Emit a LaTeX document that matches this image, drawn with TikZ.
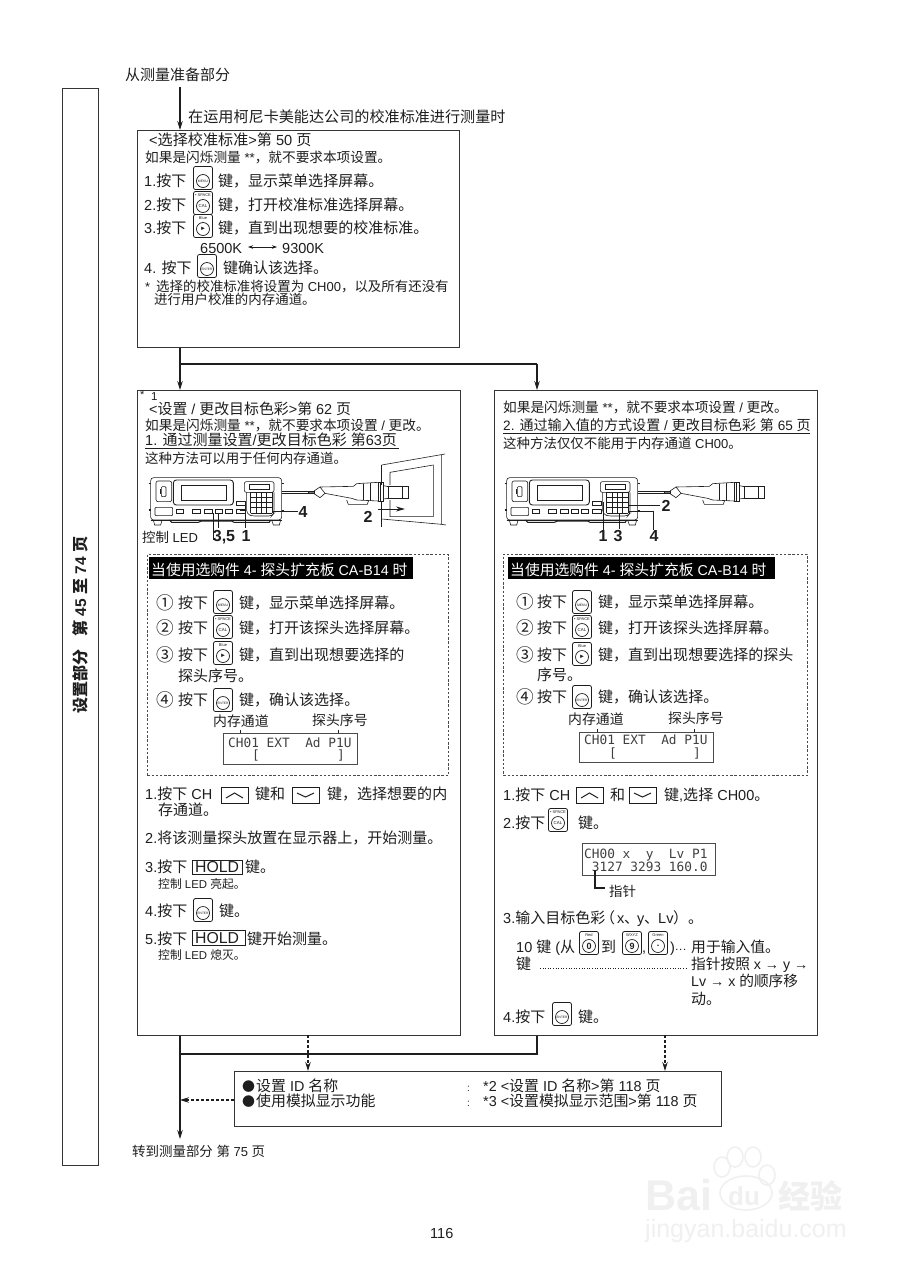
\documentclass[tikz,border=0pt]{standalone}
\usepackage{fontspec}
\usetikzlibrary{arrows.meta}
\setmainfont{Liberation Sans}
\newfontfamily\lat{Liberation Sans}
\newfontfamily\cjk[Scale=1.035]{Noto Sans CJK SC}
\newfontfamily\lcd{DejaVu Sans Mono}
\XeTeXinterchartokenstate=1
\chardef\cjkcl=5
\newcount\cc
\newcommand\setrange[2]{\cc=#1 \loop\ifnum\cc<#2 \XeTeXcharclass\cc=\cjkcl \advance\cc 1 \repeat}
\setrange{"4E00}{"A000}\setrange{"3000}{"3040}\setrange{"FF00}{"FFF0}\setrange{"2460}{"2474}
\XeTeXcharclass"25CF=\cjkcl \XeTeXcharclass"22EF=\cjkcl
\XeTeXinterchartoks 0 \cjkcl={\cjk}
\XeTeXinterchartoks 4095 \cjkcl={\cjk}
\XeTeXinterchartoks \cjkcl 0={\lat}
\XeTeXinterchartoks \cjkcl 4095={\lat}
\definecolor{ink}{HTML}{1E1E1E}
\definecolor{wm}{HTML}{F0F0F0}
\newcount\tn
% text at x, baseline y, size
\newcommand\tx[4]{\global\advance\tn 1
  \node[anchor=base west,inner sep=0pt,text=ink] (t\the\tn) at (#1,#2) {\fontsize{#3}{#3}\selectfont #4};}
% circled step number, larger than the text beside it
\newcommand\num[3]{\tx{#1-1}{#2+1}{17}{#3}}
% tool keys
\newcommand\keyic[4]{\global\advance\tn 1
  \node[draw=ink,line width=.8pt,rounded corners=2pt,minimum width=19pt,minimum height=23pt,inner sep=0pt] (t\the\tn) at (#1,#2) {};
  \draw[ink,line width=.7pt] (#1,#2+3) circle[radius=6.5];
  \global\advance\tn 1
  \node[inner sep=0pt,text=ink] (t\the\tn) at (#1,#2+3) {\fontsize{#4}{#4}\selectfont #3};}
\newcommand\keytop[4]{\keyic{#1}{#2}{#4}{4.4}
  \global\advance\tn 1
  \node[inner sep=0pt,text=ink] (t\the\tn) at (#1,#2-8) {\fontsize{4}{4}\selectfont #3};}
\newcommand\kmenu[2]{\keyic{#1}{#2}{MENU}{3.4}}
\newcommand\kenter[2]{\keyic{#1}{#2}{ENTER}{3.2}}
\newcommand\kcal[2]{\keytop{#1}{#2}{• SPACE}{CAL}}
\newcommand\kblue[2]{\keytop{#1}{#2}{Blue}{\fontsize{6}{6}\selectfont ►}}
% arrow keys
\newcommand\kup[2]{\global\advance\tn 1
  \node[draw=ink,line width=.7pt,minimum width=27pt,minimum height=16pt,inner sep=0pt,anchor=north west] (t\the\tn) at (#1,#2) {};
  \draw[ink,line width=1pt] (#1+5,#2+11) -- (#1+13.5,#2+6) -- (#1+22,#2+11);}
\newcommand\kdown[2]{\global\advance\tn 1
  \node[draw=ink,line width=.7pt,minimum width=27pt,minimum height=16pt,inner sep=0pt,anchor=north west] (t\the\tn) at (#1,#2) {};
  \draw[ink,line width=1pt] (#1+5,#2+6) -- (#1+13.5,#2+10) -- (#1+22,#2+6);}
\newcommand\hold[4]{\global\advance\tn 1
  \node[draw=ink,line width=.8pt,minimum width=#3pt,minimum height=#4pt,inner sep=0pt,anchor=north west] (t\the\tn) at (#1,#2) {};}
\newcommand\lcdbox[4]{\global\advance\tn 1
  \node[draw=ink!80,line width=.8pt,minimum width=#3pt,minimum height=#4pt,inner sep=0pt,anchor=north west] (t\the\tn) at (#1,#2) {};}
\newcommand\lcdtx[3]{\global\advance\tn 1
  \node[anchor=base west,inner sep=0pt,text=ink!85] (t\the\tn) at (#1,#2) {\fontsize{12.8}{12.8}\selectfont\lcd #3};}
\newcommand\bignum[3]{\global\advance\tn 1
  \node[anchor=base,inner sep=0pt,text=ink] (t\the\tn) at (#1,#2) {\fontsize{16}{16}\selectfont\bfseries #3};}
% instrument in crop coordinates (1 unit = 1/3 px)
\newcommand\device[1]{\begin{scope}[shift={(#1,385)},x=.33333pt,y=-.33333pt,draw=ink,line width=.6pt]
  \draw[rounded corners=3pt] (62,278) rectangle (455,405);
  \draw (62,405) -- (455,405);
  \draw[line width=1.2pt] (56,295) -- (62,295) (56,375) -- (62,375) (455,295) -- (461,295) (455,378) -- (461,378);
  \draw (70,405) -- (74,420) -- (92,420) -- (96,405) (425,405) -- (430,420) -- (448,420) -- (452,405);
  \draw[line width=1pt] (118,405) -- (125,412) -- (205,412) -- (215,408) -- (305,408) -- (312,412) -- (418,412) -- (422,405);
  \draw[rounded corners=2pt] (78,288) rectangle (125,350);
  \draw[rounded corners=1pt] (94,305) rectangle (108,335);
  \draw[line width=1pt] (90,312) -- (90,328);
  \draw[rounded corners=3pt,line width=.9pt] (130,285) rectangle (310,360);
  \draw[line width=.9pt] (155,300) rectangle (290,346);
  \draw[rounded corners=1pt] (75,367) rectangle (128,392);
  \draw[line width=.8pt] (140,372) rectangle (160,384) (188,372) rectangle (212,384) (222,372) rectangle (246,384) (255,372) rectangle (277,384) (287,372) rectangle (307,384);
  \draw[line width=.8pt] (320,350) rectangle (345,362) (320,372) rectangle (345,384);
  \draw[rounded corners=2pt] (343,290) rectangle (432,322);
  \draw (358,297) rectangle (418,314);
  \draw[rounded corners=3pt] (350,322) -- (350,385) -- (365,393) -- (425,393) -- (432,385) -- (432,322);
  \foreach \i in {0,1,2,3,4} {\draw[line width=.8pt] (362+\i*16,322) -- (362+\i*16,384);}
  \foreach \i in {0,1,2,3,4} {\draw[line width=.8pt] (362,322+\i*15.5) -- (426,322+\i*15.5);}
  \draw[line width=.7pt] (455,318) -- (545,318) (455,324) -- (545,324);
  \draw[line width=1pt,fill=ink!60] (535,318) rectangle (552,326);
  \draw (552,318) -- (570,306) -- (585,325) -- (570,338) -- (552,326);
  \draw (570,306) -- (670,304) -- (680,296) -- (745,292) -- (745,348) -- (680,345) -- (665,340) -- (585,325);
  \draw (650,345) -- (655,358) -- (712,358) -- (716,346);
  \draw (700,296) -- (700,345) (722,294) -- (722,347);
  \draw (745,292) rectangle (752,350);
  \draw (752,292) rectangle (760,350);
  \draw (760,302) -- (775,305) -- (775,340) -- (760,342);
  \draw (775,305) rectangle (835,340);
  \draw (818,305) -- (818,340);
\end{scope}}
\tikzset{
  boxst/.style={draw=ink!90,line width=1.1pt,inner sep=0pt,anchor=north west},
  dashbox/.style={draw=ink!80,line width=.7pt,dash pattern=on 2.4pt off 1.8pt,inner sep=0pt,anchor=north west},
  blackbar/.style={fill=black,inner sep=0pt,anchor=north west},
  conn/.style={draw=ink,line width=1.1pt},
  arr/.style={conn,-{Stealth[length=9pt,width=5.5pt]}},
  darr/.style={conn,dash pattern=on 3pt off 2pt,-{Stealth[length=9pt,width=5.5pt,sep=0pt]}},
  lead/.style={draw=ink,line width=.9pt}
}
\begin{document}
\begin{tikzpicture}[x=1pt,y=-1pt]
\useasboundingbox (0,0) rectangle (905,1280);
\fill[white] (0,0) rectangle (905,1280);
% watermark
\node[anchor=base west,inner sep=0pt,text=wm] (wm1) at (645,1210) {\fontsize{43}{43}\selectfont\bfseries Bai};
\draw[wm,line width=1.6pt] (746,1193) ellipse[x radius=26,y radius=17];
\foreach \a/\b in {722/1167,735/1157,753/1157,767/1175}{\draw[wm,line width=1.6pt] (\a,\b) ellipse[x radius=8,y radius=10];}
\node[anchor=base west,inner sep=0pt,text=wm] (wm2) at (728,1205) {\fontsize{26}{26}\selectfont\bfseries du};
\node[anchor=base west,inner sep=0pt,text=wm] (wm3) at (778,1208) {\fontsize{31}{31}\selectfont\bfseries 经验};
\node[anchor=base west,inner sep=0pt,text=wm] (wm4) at (645,1237) {\fontsize{25}{25}\selectfont jingyan.baidu.com};
% boxes
\node[boxst,minimum width=36pt,minimum height=1077pt] (side) at (62,88) {};
\node[boxst,minimum width=322pt,minimum height=217pt] (top) at (137,130) {};
\node[boxst,minimum width=323pt,minimum height=645pt] (lft) at (137,390) {};
\node[boxst,minimum width=323pt,minimum height=645pt] (rgt) at (494,390) {};
\node[boxst,minimum width=487pt,minimum height=55pt] (opt) at (234,1071) {};
\node[dashbox,minimum width=301pt,minimum height=221pt] (dl) at (147,554) {};
\node[dashbox,minimum width=304pt,minimum height=221pt] (dr) at (503,554) {};
% connectors
\coordinate (start) at (180,87);
\coordinate (j1) at (180,364);
\coordinate (j2) at (537,364);
\coordinate (j3) at (180,1054);
\coordinate (j4) at (537,1054);
\coordinate (finish) at (180,1139);
\coordinate (d1) at (308,1035);
\coordinate (d2) at (665,1035);
\coordinate (d3) at (234,1100);
\coordinate (d4) at (180,1100);
\draw[arr] (start) -- (top.north -| start);
\draw[arr] (top.south -| j1) -- (lft.north -| j1);
\draw[conn] (j1) -- (j2);
\draw[arr] (j2) -- (rgt.north -| j2);
\draw[arr] (lft.south -| j1) -- (finish);
\draw[conn] (j3) -- (j4) -- (rgt.south -| j4);
\draw[darr] (d1) -- (opt.north -| d1);
\draw[darr] (d2) -- (opt.north -| d2);
\draw[darr] (d3) -- (d4);
% side label
\node[rotate=90,inner sep=0pt,text=ink] (sidelabel) at (80,625) {\fontsize{15.5}{15.5}\selectfont\bfseries 设置部分 \ \ 第 45 至 74 页};
% header
\tx{125}{80}{14.5}{从测量准备部分}
\tx{188}{122}{14.6}{在运用柯尼卡美能达公司的校准标准进行测量时}
% top box
\tx{149}{145}{14.6}{<选择校准标准>第 50 页}
\tx{145}{162}{13.2}{如果是闪烁测量 **，就不要求本项设置。}
\tx{144}{186}{14.5}{1.按下}\kmenu{203}{178}\tx{218}{186}{14.5}{键，显示菜单选择屏幕。}
\tx{144}{210}{14.5}{2.按下}\kcal{203}{203}\tx{218}{210}{14.5}{键，打开校准标准选择屏幕。}
\tx{144}{233}{14.5}{3.按下}\kblue{203}{226}\tx{218}{233}{14.5}{键，直到出现想要的校准标准。}
\tx{200}{253}{14.5}{6500K}
\coordinate (a1) at (248,247);\coordinate (a2) at (277,247);
\draw[draw=ink,line width=.7pt,{Stealth[length=5pt,width=3.5pt]}-{Stealth[length=5pt,width=3.5pt]}] (a1) -- (a2);
\tx{282}{253}{14.5}{9300K}
\tx{144}{273}{14.5}{4. 按下}\kenter{207}{266}\tx{223}{273}{14.5}{键确认该选择。}
\tx{145}{291}{12.8}{*}
\tx{156}{291}{13}{选择的校准标准将设置为 CH00，以及所有还没有}
\tx{154}{304}{13}{进行用户校准的内存通道。}
% left box
\tx{140}{398}{11}{*}\tx{151}{400}{11.5}{1}
\tx{149}{414}{14.4}{<设置 / 更改目标色彩>第 62 页}
\tx{145}{430}{13.2}{如果是闪烁测量 **，就不要求本项设置 / 更改。}
\tx{145}{445}{14.5}{1. 通过测量设置/更改目标色彩 第63页}
\coordinate (u1) at (145,448);\coordinate (u2) at (399,448);\draw[lead] (u1) -- (u2);
\tx{145}{463}{13}{这种方法可以用于任何内存通道。}
\device{130}
\begin{scope}[shift={(130,385)},x=.33333pt,y=-.33333pt,draw=ink,line width=.6pt]
  \draw (755,240) -- (945,207) (935,209) -- (935,418);
  \draw (755,240) -- (755,300) (755,350) -- (755,425);
  \draw (780,262) -- (910,240) -- (910,395) -- (780,395) -- (780,345) (780,262) -- (780,300);
  \draw (755,402) -- (935,418) -- (948,420);
  \draw[lead,-{Stealth[length=9pt,width=5pt]}] (745,372) -- (825,372);
  \draw[lead] (430,380) -- (505,380);
  \draw[lead] (250,385) -- (250,465) (265,385) -- (265,428);
  \draw[lead] (330,350) -- (345,350) -- (345,430) (345,376) -- (330,376);
\end{scope}
\bignum{368}{522}{2}\bignum{303}{517}{4}\bignum{224}{541}{3,5}\bignum{246}{541}{1}
\tx{142}{542}{13}{控制 LED}
% right box text
\tx{503}{412}{13.2}{如果是闪烁测量 **，就不要求本项设置 / 更改。}
\tx{503}{430}{13.6}{2. 通过输入值的方式设置 / 更改目标色彩 第 65 页}
\coordinate (u3) at (503,433);\coordinate (u4) at (810,433);\draw[lead] (u3) -- (u4);
\tx{503}{448}{13}{这种方法仅仅不能用于内存通道 CH00。}
\device{486}
\begin{scope}[shift={(490,385)},x=.33333pt,y=-.33333pt]
  \draw[lead] (415,360) -- (510,360);
  \draw[lead] (340,352) -- (340,435);
  \draw[lead] (387,385) -- (387,432);
  \draw[lead] (415,378) -- (490,378) -- (490,435);
\end{scope}
\bignum{666}{511}{2}\bignum{603}{541}{1}\bignum{618}{541}{3}\bignum{654}{541}{4}
% left dashed
\node[blackbar,minimum width=264pt,minimum height=22pt] (barl) at (149,557) {};
\global\advance\tn 1
\node[anchor=base west,inner sep=0pt,text=white] (t\the\tn) at (151,575) {\fontsize{14.3}{14.3}\selectfont 当使用选购件 4- 探头扩充板 CA-B14 时};
\num{157}{608}{①}\tx{178}{608}{14.5}{按下}\kmenu{223}{602}\tx{239}{608}{14.5}{键，显示菜单选择屏幕。}
\num{157}{633}{②}\tx{178}{633}{14.5}{按下}\kcal{223}{627}\tx{239}{633}{14.5}{键，打开该探头选择屏幕。}
\num{157}{660}{③}\tx{178}{660}{14.5}{按下}\kblue{223}{653}\tx{239}{660}{14.5}{键，直到出现想要选择的}
\tx{178}{681}{14.5}{探头序号。}
\num{157}{705}{④}\tx{178}{705}{14.5}{按下}\kenter{223}{700}\tx{239}{705}{14.5}{键，确认该选择。}
\tx{213}{726}{13.4}{内存通道}\tx{312}{725}{13.4}{探头序号}
\lcdbox{223}{733}{134}{31}
\coordinate (k1) at (240,730);\coordinate (k2) at (338,730);
\draw[lead] (k1) -- (k1 |- 0,733); \draw[lead] (k2) -- (k2 |- 0,733);
\lcdtx{228}{747}{CH01 EXT~~Ad~P1U}
\lcdtx{252}{759}{[}\lcdtx{337}{759}{]}
% left steps
\tx{145}{799}{14.5}{1.按下 CH}\kup{221}{787}\tx{255}{799}{14.5}{键和}\kdown{292}{787}\tx{327}{799}{14.5}{键，选择想要的内}
\tx{158}{815}{14.5}{存通道。}
\tx{145}{843}{14.5}{2.将该测量探头放置在显示器上，开始测量。}
\tx{145}{872}{14.5}{3.按下}\hold{192}{860}{50}{14}\tx{195}{872}{15.8}{HOLD}\tx{245}{872}{14.5}{键。}
\tx{158}{888}{11.4}{控制 LED 亮起。}
\tx{145}{916}{14.5}{4.按下}\kenter{203}{910}\tx{219}{916}{14.5}{键。}
\tx{145}{944}{14.5}{5.按下}\hold{192}{930}{53}{15}\tx{195}{943}{15.8}{HOLD}\tx{247}{944}{14.5}{键开始测量。}
\tx{158}{959}{11.4}{控制 LED 熄灭。}
% right dashed
\node[blackbar,minimum width=267pt,minimum height=22pt] (barr) at (508,557) {};
\global\advance\tn 1
\node[anchor=base west,inner sep=0pt,text=white] (t\the\tn) at (510,575) {\fontsize{14.3}{14.3}\selectfont 当使用选购件 4- 探头扩充板 CA-B14 时};
\num{517}{607}{①}\tx{537}{607}{14.5}{按下}\kmenu{582}{602}\tx{598}{607}{14.5}{键，显示菜单选择屏幕。}
\num{517}{633}{②}\tx{537}{633}{14.5}{按下}\kcal{582}{627}\tx{598}{633}{14.5}{键，打开该探头选择屏幕。}
\num{517}{660}{③}\tx{537}{660}{14.5}{按下}\kblue{582}{654}\tx{598}{660}{14.5}{键，直到出现想要选择的探头}
\tx{537}{680}{14.5}{序号。}
\num{517}{702}{④}\tx{537}{702}{14.5}{按下}\kenter{582}{697}\tx{598}{702}{14.5}{键，确认该选择。}
\tx{568}{724}{13.4}{内存通道}\tx{668}{723}{13.4}{探头序号}
\lcdbox{579}{732}{134}{30}
\coordinate (k3) at (597,729);\coordinate (k4) at (694,729);
\draw[lead] (k3) -- (k3 |- 0,732); \draw[lead] (k4) -- (k4 |- 0,732);
\lcdtx{584}{744}{CH01 EXT~~Ad~P1U}
\lcdtx{609}{757}{[}\lcdtx{693}{757}{]}
% right steps
\tx{503}{800}{14.5}{1.按下 CH}\kup{576}{787}\tx{610}{800}{14.5}{和}\kdown{629}{787}\tx{664}{800}{14.5}{键,选择 CH00。}
\tx{503}{828}{14.5}{2.按下}\kcal{558}{820}\tx{578}{828}{14.5}{键。}
\lcdbox{582}{843}{133}{32}
\lcdtx{584}{858}{CH00 x~~y~~Lv P1}
\lcdtx{584}{871}{~3127 3293 160.0}
\coordinate (p1) at (595,870);\coordinate (p2) at (595,888);\coordinate (p3) at (605,888);
\draw[draw=ink,line width=1.3pt] (p1) -- (p2) -- (p3);
\tx{609}{896}{13}{指针}
\tx{503}{923}{14.5}{3.输入目标色彩}\tx{600}{923}{14.5}{（}\tx{617}{923}{14.5}{x}\tx{624}{923}{14.5}{、}\tx{637}{923}{14.5}{y}\tx{644}{923}{14.5}{、}\tx{658}{923}{14.5}{Lv}\tx{673}{923}{14.5}{）。}
\tx{516}{952}{14.5}{10 键 (从}\keytop{589}{943}{Red}{\fontsize{9}{9}\selectfont\bfseries 0}
\tx{601}{952}{14.5}{到}\keytop{632}{943}{WXYZ}{\fontsize{9}{9}\selectfont\bfseries 9}\tx{642}{952}{14.5}{,}
\keytop{658}{943}{Green}{\fontsize{9}{9}\selectfont\bfseries .}\tx{670}{952}{14.5}{)}
\tx{675}{950}{10}{⋯}\tx{691}{952}{14.3}{用于输入值。}
\tx{516}{969}{14.5}{键}
\coordinate (dt1) at (540,968);\coordinate (dt2) at (688,968);
\draw[draw=ink,line width=1pt,dash pattern=on 1pt off 1.6pt] (dt1) -- (dt2);
\tx{691}{969}{14.2}{指针按照 x → y →}
\tx{691}{986}{14.2}{Lv → x 的顺序移}
\tx{691}{1004}{14.5}{动。}
\tx{503}{1022}{14.5}{4.按下}\kenter{562}{1014}\tx{578}{1022}{14.5}{键。}
% options box
\tx{242}{1091}{12.5}{●}\tx{256}{1091}{14.4}{设置 ID 名称}
\tx{242}{1106}{12.5}{●}\tx{256}{1106}{14.4}{使用模拟显示功能}
\tx{467}{1091}{10}{:}\tx{467}{1106}{10}{:}
\tx{483}{1091}{14.4}{*2 <设置 ID 名称>第 118 页}
\tx{483}{1106}{14.4}{*3 <设置模拟显示范围>第 118 页}
\tx{132}{1156}{13}{转到测量部分 第 75 页}
\tx{430}{1238}{14.5}{116}
\end{tikzpicture}
\end{document}
